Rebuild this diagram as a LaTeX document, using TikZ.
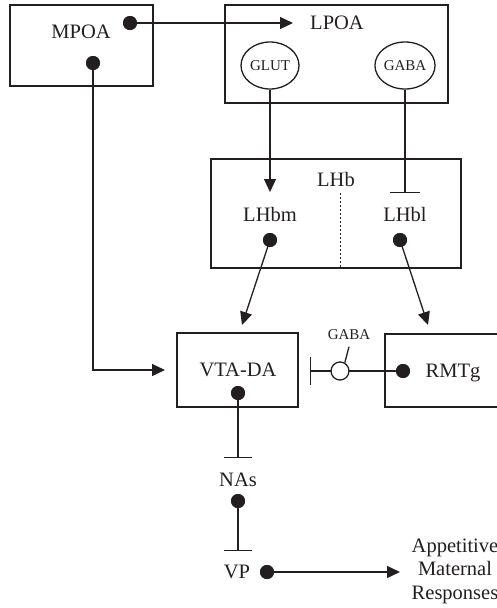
\documentclass[tikz,border=0pt]{standalone}
\usepackage{fontspec}
\setmainfont{Liberation Serif}
\usetikzlibrary{arrows.meta,shapes.geometric}
\definecolor{ink}{RGB}{35,31,32}
\begin{document}
\begin{tikzpicture}[x=1pt,y=-1pt, line width=1.3pt, draw=ink,
 box/.style={draw=ink, rectangle, inner sep=0},
 lbl/.style={font=\fontsize{20.5}{24}\selectfont, inner sep=0, text=ink},
 sm/.style={font=\fontsize{15}{17}\selectfont, inner sep=0, text=ink},
 dot/.style={circle, fill=ink, inner sep=0, minimum size=14pt},
 arr/.style={-{Triangle[length=13pt,width=12pt]}},
 inh/.style={-{Bar[width=30pt]}},
 inhs/.style={-{Bar[width=28pt]}}]
\useasboundingbox (0,0) rectangle (497,608);
\fill[white] (0,0) rectangle (497,608);

% boxes
\node[box, minimum width=143pt, minimum height=81pt] (mpoa) at (81.5,45.5) {};
\node[box, minimum width=223pt, minimum height=98pt] (lpoa) at (336.5,54) {};
\node[box, minimum width=250pt, minimum height=109pt] (lhb) at (336,213.5) {};
\node[box, minimum width=121pt, minimum height=74pt] (vta) at (237.5,370) {};
\node[box, minimum width=115pt, minimum height=73pt] (rmtg) at (442.5,370.5) {};

% labels
\node[lbl] (mpoat) at (81,32) {MPOA};
\node[lbl] (lpoat) at (337,23) {LPOA};
\node[lbl] (lhbt) at (336,179) {LHb};
\node[lbl] (lhbmt) at (270,214) {LHbm};
\node[lbl] (lhblt) at (405,214) {LHbl};
\node[lbl] (vtat) at (238,370) {VTA-DA};
\node[lbl] (rmtgt) at (453,373) {RMTg};
\node[lbl] (nast) at (238,480) {NAs};
\node[lbl] (vpt) at (237,572) {VP};
\node[lbl, align=center, font=\fontsize{20.5}{23.5}\selectfont] (resp) at (455,571) {Appetitive\\Maternal\\Responses};

% ellipses
\node[draw=ink, ellipse, minimum width=58pt, minimum height=47pt, inner sep=0, sm] (glut) at (270,65.5) {GLUT};
\node[draw=ink, ellipse, minimum width=58pt, minimum height=47pt, inner sep=0, sm] (gaba) at (405,65.5) {GABA};

% dots
\node[dot] (d1) at (130,23) {};
\node[dot] (d2) at (93,63) {};
\node[dot] (dbm) at (270,240) {};
\node[dot] (dbl) at (400,240) {};
\node[dot] (dvta) at (238,393) {};
\node[dot] (drm) at (403,371) {};
\node[dot] (dnas) at (238,501) {};
\node[dot] (dvp) at (267,572) {};

% free ends
\coordinate (lpin) at (293,23);
\coordinate (bmin) at (270,192);
\coordinate (blin) at (405,193);
\coordinate (vtain1) at (242,325);
\coordinate (rmin) at (428,325);
\coordinate (vtain2) at (165,370);
\coordinate (vtabar) at (310,371);
\coordinate (nasbar) at (238,458);
\coordinate (vpbar) at (238,551);
\coordinate (respin) at (400,572);
\coordinate (dtop) at (340,193);
\coordinate (dbot) at (340,268);

% connectors
\draw[arr] (d1.center) -- (lpin);
\draw[arr] (glut.south) -- (bmin);
\draw[inh] (gaba.south) -- (blin);
\draw[arr] (dbm.center) -- (vtain1);
\draw[arr] (dbl.center) -- (rmin);
\draw[arr] (d2.center) |- (vtain2);
\draw[inhs] (drm.center) -- (vtabar);
\draw[inhs] (dvta.center) -- (nasbar);
\draw[inhs] (dnas.center) -- (vpbar);
\draw[arr] (dvp.center) -- (respin);
\draw[line width=1pt, dash pattern=on 2pt off 2pt] (dtop) -- (dbot);

% redraw dots on top
\foreach \n in {d1,d2,dbm,dbl,dvta,drm,dnas,dvp}{\fill[ink] (\n) circle (7pt);}

% GABA circle on RMTg line
\node[circle, draw=ink, fill=white, minimum size=18pt, inner sep=0] (gc) at (340,371) {};
\node[sm] (gabal) at (349,335) {GABA};
\draw (gc.60) -- ([yshift=-6pt]gabal.south);
\end{tikzpicture}
\end{document}
